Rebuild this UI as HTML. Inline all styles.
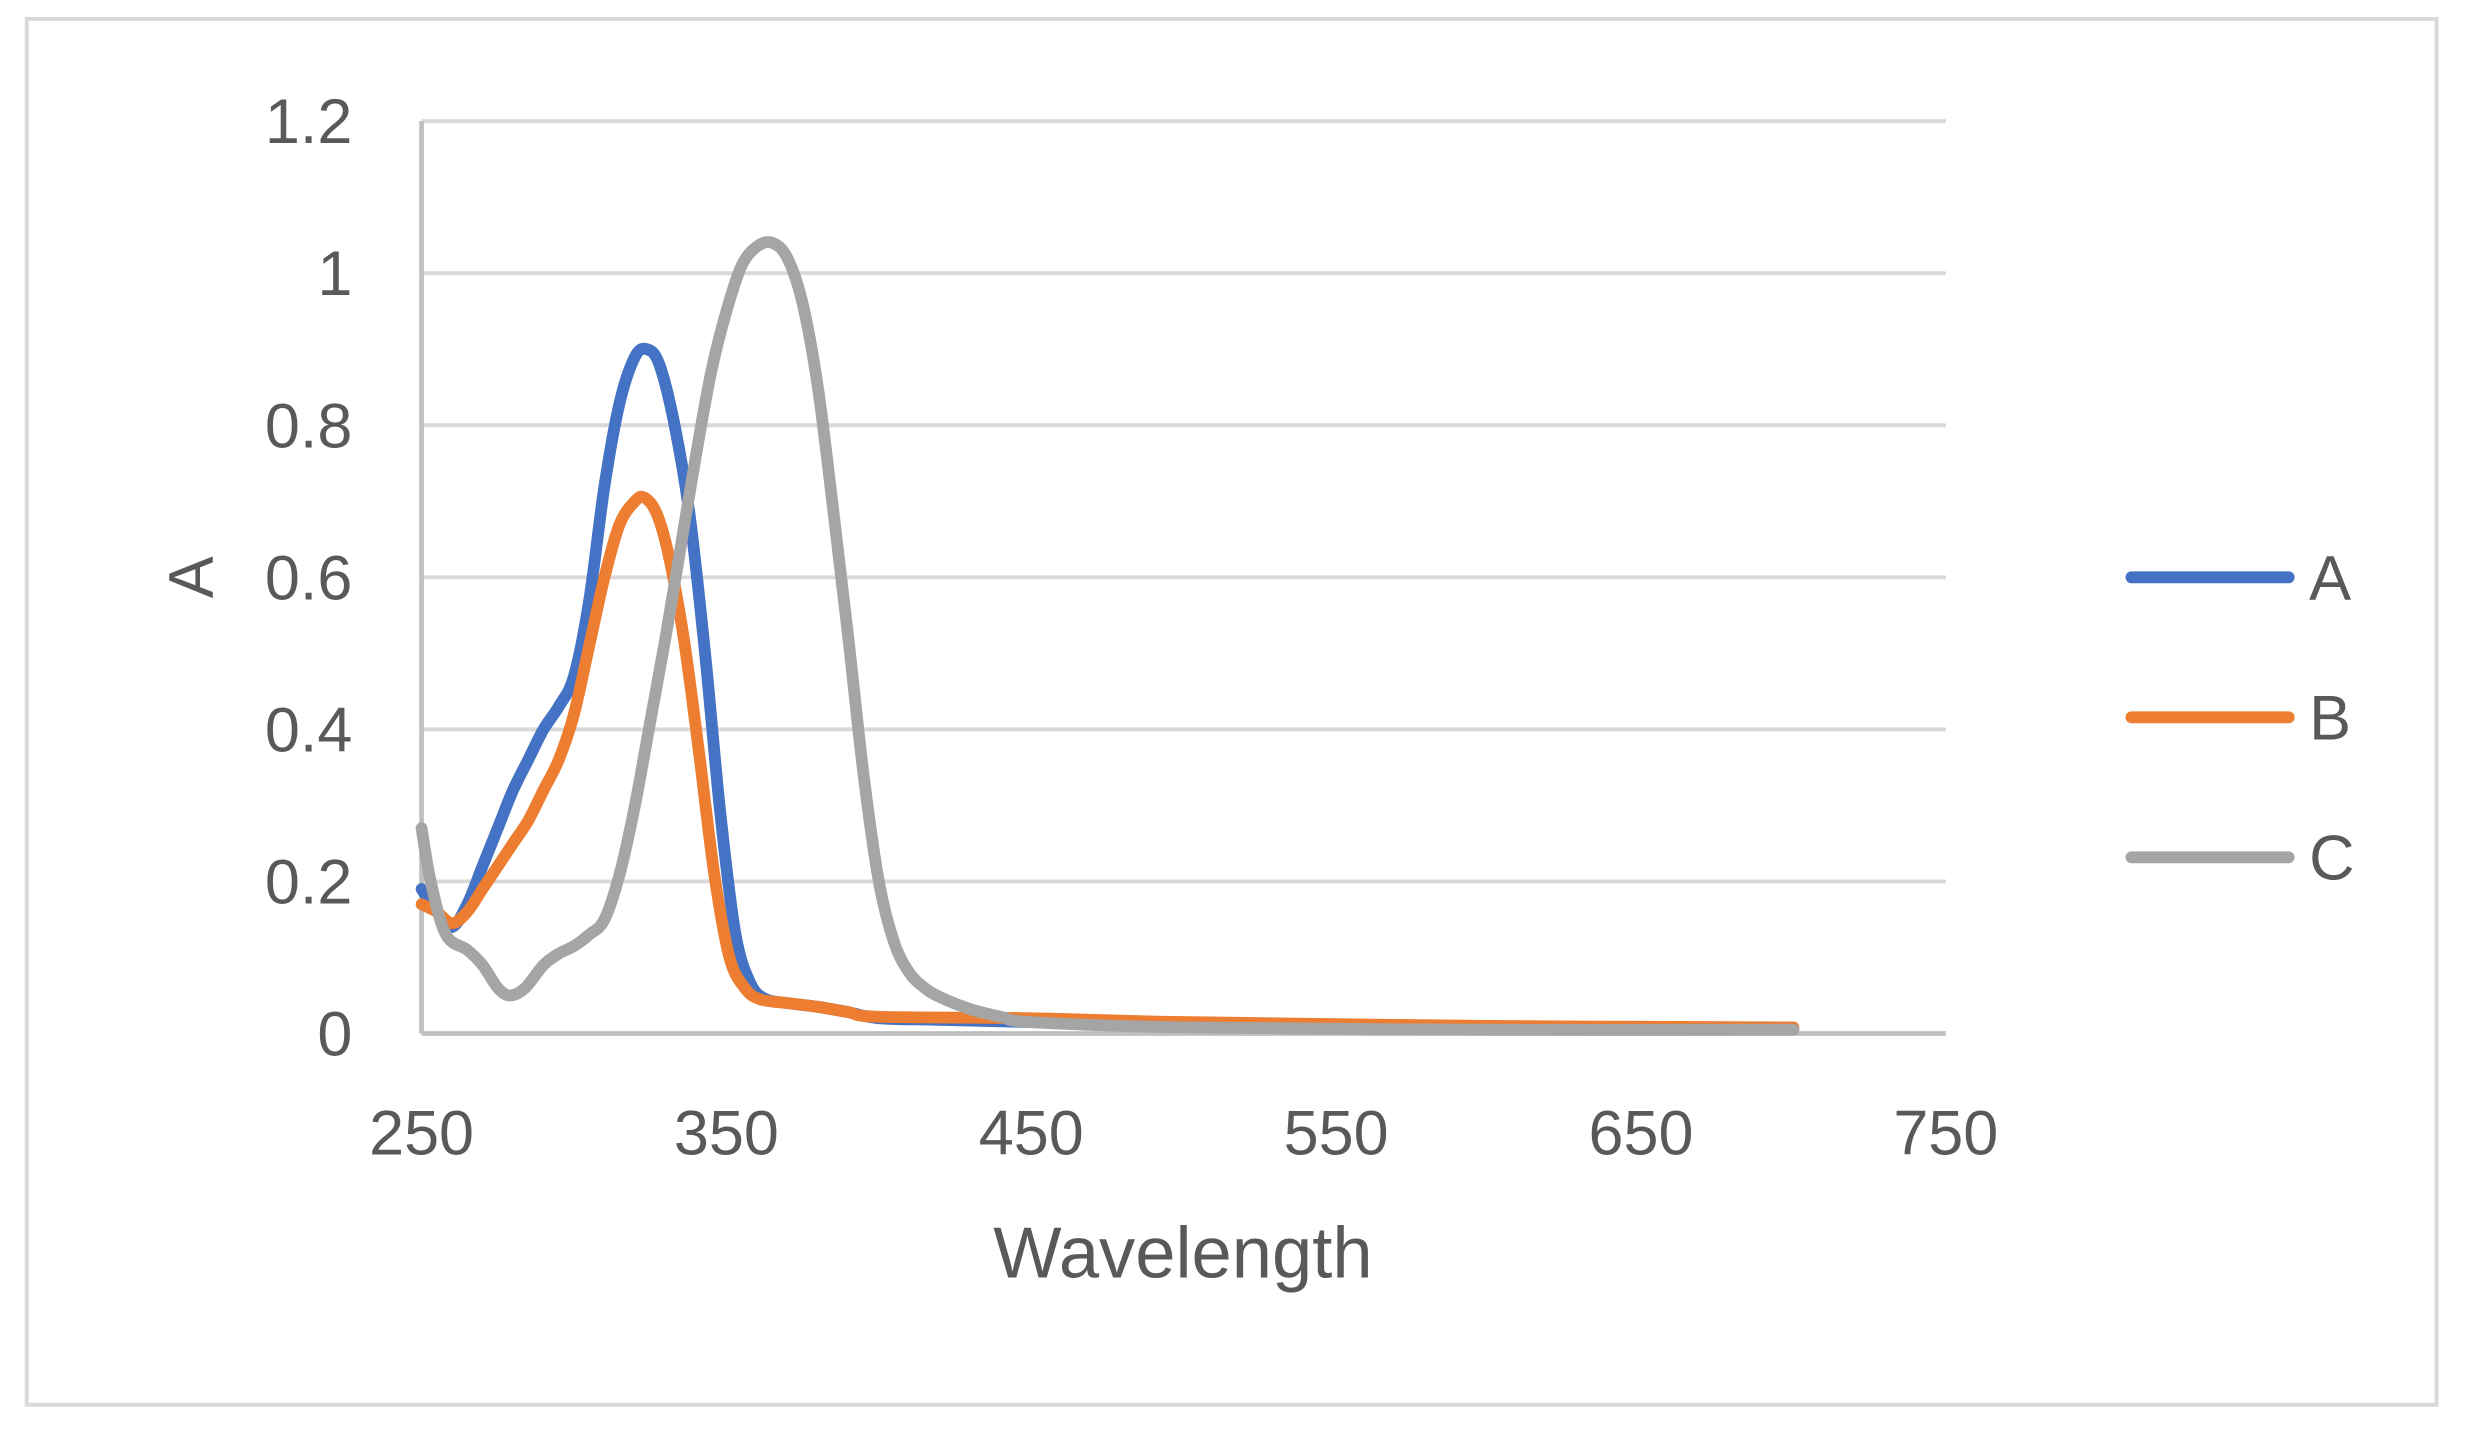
<!DOCTYPE html>
<html><head><meta charset="utf-8"><style>
html,body{margin:0;padding:0;background:#fff}
svg{display:block}
text{font-family:"Liberation Sans",sans-serif;fill:#595959}
</style></head><body>
<svg id="chart" width="2466" height="1431" viewBox="0 0 1567.7 909.7" xmlns="http://www.w3.org/2000/svg">
<rect x="17" y="12" width="1532" height="881" fill="#fff" stroke="#d9d9d9" stroke-width="2.5"/>
<g id="grid"></g><g id="axes"></g><g id="series"></g><g id="legend"></g>
<text x="752" y="812" font-size="46" text-anchor="middle">Wavelength</text>
<text transform="translate(135,367) rotate(-90)" font-size="40" text-anchor="middle">A</text>
</svg>
<script>
const xTicks=[250,350,450,550,650,750];
const yTicks=[0,0.2,0.4,0.6,0.8,1,1.2];
const seriesNames=["A","B","C"];
const wlA=[250,255,260,265,270,275,280,285,290,295,300,305,310,315,320,324,328,333,338,343,348,353,358,363,370,380,390,400,420,450,500,600,700];
const valA=[0.19,0.16,0.14,0.17,0.22,0.27,0.32,0.36,0.40,0.43,0.47,0.57,0.72,0.83,0.89,0.90,0.88,0.80,0.68,0.50,0.29,0.13,0.065,0.045,0.04,0.035,0.028,0.02,0.018,0.015,0.01,0.008,0.006];
const wlB=[250,255,260,265,270,275,280,285,290,295,300,305,310,315,320,323,327,331,336,341,346,351,356,361,370,380,390,400,450,500,600,700];
const valB=[0.17,0.16,0.145,0.16,0.19,0.22,0.25,0.28,0.32,0.36,0.42,0.51,0.60,0.67,0.70,0.705,0.685,0.63,0.52,0.37,0.21,0.10,0.06,0.045,0.04,0.035,0.028,0.022,0.02,0.015,0.01,0.008];
const wlC=[250,253,258,265,270,275,279,284,290,295,300,305,310,315,320,325,330,335,340,345,350,355,360,365,370,375,380,385,390,395,400,405,410,415,420,430,440,450,500,600,700];
const valC=[0.27,0.2,0.13,0.11,0.09,0.06,0.05,0.06,0.09,0.105,0.115,0.13,0.15,0.21,0.30,0.41,0.52,0.64,0.76,0.87,0.95,1.01,1.035,1.04,1.02,0.96,0.85,0.69,0.52,0.34,0.20,0.12,0.08,0.06,0.048,0.032,0.022,0.015,0.008,0.005,0.005];
const colors=["#4472c4","#ed7d31","#a5a5a5"];
const NS="http://www.w3.org/2000/svg";
const X0=268,X1=1237,Y0=657,Y1=77;
const xs=v=>X0+(v-250)/500*(X1-X0);
const ys=v=>Y0-v/1.2*(Y0-Y1);
function mk(t,a,p){const e=document.createElementNS(NS,t);for(const k in a)e.setAttribute(k,a[k]);p.appendChild(e);return e;}
const grid=document.getElementById('grid'),axes=document.getElementById('axes'),ser=document.getElementById('series'),leg=document.getElementById('legend');
yTicks.forEach(t=>{
  if(t>0){const g=mk('line',{x1:X0,x2:X1,y1:ys(t),y2:ys(t),stroke:'#d9d9d9','stroke-width':2.5},grid);
  
  }
  const l=mk('text',{x:224,y:ys(t)+14,'font-size':40,'text-anchor':'end'},axes);l.textContent=String(t);
  
  
});
xTicks.forEach(t=>{
  const l=mk('text',{x:xs(t),y:734,'font-size':40,'text-anchor':'middle'},axes);l.textContent=String(t);
  
  
});
const xa=mk('line',{x1:X0,x2:X1,y1:Y0,y2:Y0,stroke:'#bfbfbf','stroke-width':3},axes);


const ya=mk('line',{x1:X0,x2:X0,y1:Y1,y2:Y0,stroke:'#bfbfbf','stroke-width':3},axes);


function pathD(wl,v){const p=wl.map((w,i)=>[xs(w),ys(v[i])]);let d='M'+p[0][0]+','+p[0][1];
 for(let i=0;i<p.length-1;i++){const a=p[Math.max(0,i-1)],b=p[i],c=p[i+1],e=p[Math.min(p.length-1,i+2)];
 d+=' C'+(b[0]+(c[0]-a[0])/6)+','+(b[1]+(c[1]-a[1])/6)+' '+(c[0]-(e[0]-b[0])/6)+','+(c[1]-(e[1]-b[1])/6)+' '+c[0]+','+c[1];}return d;}
const data=[[wlA,valA],[wlB,valB],[wlC,valC]];
data.forEach((s,i)=>{
  const p=mk('path',{d:pathD(s[0],s[1]),fill:'none',stroke:colors[i],'stroke-width':7.5,'stroke-linejoin':'round','stroke-linecap':'round'},ser);
  
  
  const ly=367+i*89;
  const ll=mk('line',{x1:1355,x2:1455,y1:ly,y2:ly,stroke:colors[i],'stroke-width':7.5,'stroke-linecap':'round'},leg);
  
  
  const lt=mk('text',{x:1468,y:ly+14,'font-size':40},leg);lt.textContent=seriesNames[i];
  
  
});
</script>
</body></html>
